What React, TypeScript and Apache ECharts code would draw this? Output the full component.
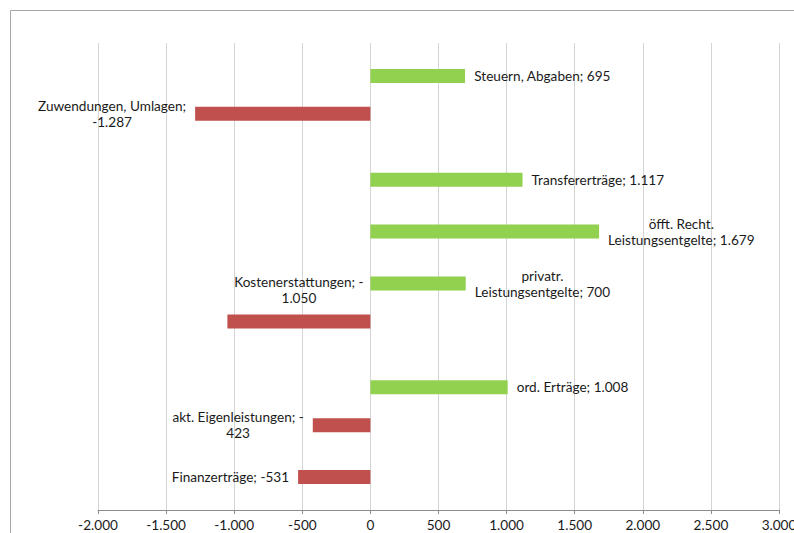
import React, { useEffect, useRef } from 'react';
import * as echarts from 'echarts';

// Categories (top to bottom)
const categories = [
  'Steuern, Abgaben',
  'Zuwendungen, Umlagen',
  'Transfererträge',
  'öfft. Recht. Leistungsentgelte',
  'privatr. Leistungsentgelte',
  'Kostenerstattungen',
  'ord. Erträge',
  'akt. Eigenleistungen',
  'Finanzerträge',
];
// Label names as wrapped in the reference
const labelNames = [
  'Steuern, Abgaben',
  'Zuwendungen, Umlagen',
  'Transfererträge',
  'öfft. Recht.\nLeistungsentgelte',
  'privatr.\nLeistungsentgelte',
  'Kostenerstattungen',
  'ord. Erträge',
  'akt. Eigenleistungen',
  'Finanzerträge',
];
// where the value wraps: none, line (value on next line), sign (sign stays, number on next line)
const valueBreak = ['none', 'line', 'none', 'none', 'none', 'sign', 'none', 'sign', 'none'];

// Series values
const positiveValues: (number | null)[] = [695, null, 1117, 1679, 700, null, 1008, null, null];
const negativeValues: (number | null)[] = [null, -1287, null, null, null, -1050, null, -423, -531];

// Axis ticks
const xMin = -2000;
const xMax = 3000;
const xInterval = 500;

function fmtDe(n: number): string {
  const s = String(Math.round(Math.abs(n)));
  return s.replace(/\B(?=(\d{3})+(?!\d))/g, '.');
}

function labelText(idx: number, v: number): string {
  const name = labelNames[idx];
  const sign = v < 0 ? '-' : '';
  const abs = fmtDe(v);
  let t: string;
  if (valueBreak[idx] === 'line') t = `${name};\n${sign}${abs}`;
  else if (valueBreak[idx] === 'sign') t = `${name}; ${sign}\n${abs}`;
  else t = `${name}; ${sign}${abs}`;
  return t
    .split('\n')
    .map((l) => `{c|${l}}`)
    .join('\n');
}

const FONT = 'Lato, "Open Sans", sans-serif';
const FS = 13.6;

export default function App() {
  const ref = useRef<HTMLDivElement>(null);
  useEffect(() => {
    document.body.style.margin = '0';
    if (!ref.current) return;
    const chart = echarts.init(ref.current, undefined, { renderer: 'svg' });

    const labelRich = {
      c: { align: 'center', fontFamily: FONT, fontSize: FS, color: '#1a1a1a', lineHeight: 16 },
    };

    const negData = negativeValues.map((v, i) => {
      if (v === null) return null;
      if (categories[i] === 'Kostenerstattungen') {
        return { value: v, label: { position: 'top', distance: 8 } };
      }
      return v;
    });

    chart.setOption({
      animation: false,
      backgroundColor: '#ffffff',
      textStyle: { fontFamily: FONT },
      grid: { left: 98, right: 15, top: 43, bottom: 23, containLabel: false, outerBoundsMode: 'none' },
      xAxis: {
        type: 'value',
        min: xMin,
        max: xMax,
        interval: xInterval,
        axisLine: { show: true, onZero: false, lineStyle: { color: '#8c8c8c', width: 1 } },
        axisTick: { show: true, length: 4, lineStyle: { color: '#8c8c8c' } },
        axisLabel: {
          color: '#1a1a1a',
          fontSize: FS,
          fontFamily: FONT,
          margin: 8,
          formatter: (v: number) => (v < 0 ? '-' : '') + fmtDe(v),
        },
        splitLine: { show: true, lineStyle: { color: '#d4d4d4', width: 1 } },
      },
      yAxis: {
        type: 'category',
        data: categories,
        inverse: true,
        axisLine: { show: false },
        axisTick: { show: false },
        axisLabel: { show: false },
        splitLine: { show: false },
      },
      graphic: [
        {
          type: 'line',
          shape: { x1: 10.5, y1: 10.5, x2: 794, y2: 10.5 },
          style: { stroke: '#a6a6a6', lineWidth: 1 },
          silent: true,
        },
        {
          type: 'line',
          shape: { x1: 10.5, y1: 10.5, x2: 10.5, y2: 533 },
          style: { stroke: '#a6a6a6', lineWidth: 1 },
          silent: true,
        },
      ],
      series: [
        {
          name: 'Aufwand',
          type: 'bar',
          data: negData,
          barWidth: 14,
          barGap: '0%',
          itemStyle: { color: '#C0504D' },
          label: {
            show: true,
            position: 'left',
            distance: 9,
            formatter: (p: any) => labelText(p.dataIndex, p.value),
            rich: labelRich,
          },
        },
        {
          name: 'Ertrag',
          type: 'bar',
          data: positiveValues,
          barWidth: 14,
          barGap: '0%',
          itemStyle: { color: '#92D050' },
          label: {
            show: true,
            position: 'right',
            distance: 9,
            formatter: (p: any) => labelText(p.dataIndex, p.value),
            rich: labelRich,
          },
        },
      ],
    });
    return () => chart.dispose();
  }, []);
  return <div ref={ref} style={{ width: 794, height: 533 }} />;
}
